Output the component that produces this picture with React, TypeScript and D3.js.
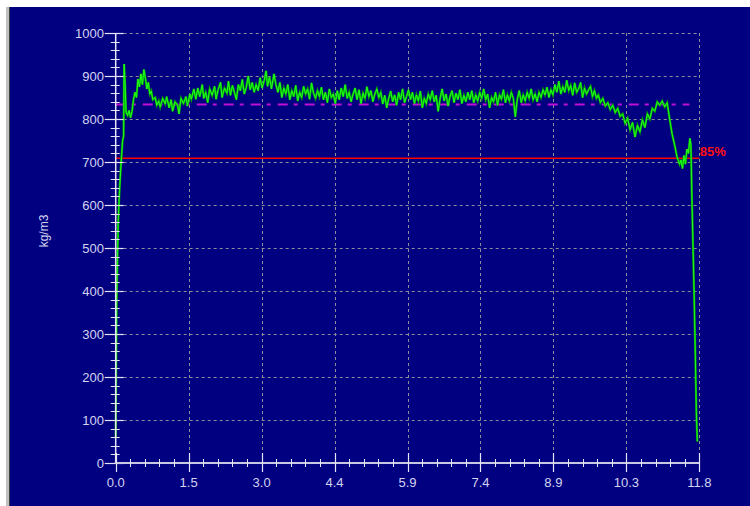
import React from "react";
import * as d3 from "d3";

// distance (x) vs density (kg/m3)
const densityPts: [number, number][] = [
  [0.0, 60], [0.02, 380], [0.05, 560], [0.08, 640], [0.11, 700], [0.14, 750],
  [0.16, 760], [0.17, 928], [0.19, 880], [0.21, 815], [0.24, 808], [0.27, 820],
  [0.3, 803], [0.33, 818], [0.36, 845], [0.39, 862], [0.42, 850], [0.45, 893],
  [0.48, 875], [0.51, 905], [0.54, 880], [0.57, 915], [0.6, 895], [0.63, 870],
  [0.66, 885], [0.69, 858], [0.72, 865], [0.75, 845],
  [0.8, 850], [0.83, 832], [0.87, 842], [0.9, 828], [0.95, 848], [1.0, 835],
  [1.03, 852], [1.08, 826], [1.12, 845], [1.15, 818], [1.2, 840], [1.25, 832],
  [1.28, 812], [1.32, 848], [1.37, 836], [1.42, 852], [1.45, 830], [1.5, 858],
  [1.53, 846], [1.58, 870], [1.62, 846], [1.66, 872], [1.7, 852], [1.75, 880],
  [1.78, 848], [1.82, 862], [1.86, 838], [1.9, 870], [1.95, 855], [2.0, 876],
  [2.03, 846], [2.07, 868], [2.12, 885], [2.15, 850], [2.2, 872], [2.25, 860],
  [2.28, 888], [2.32, 855], [2.36, 878], [2.4, 862], [2.44, 845], [2.48, 880],
  [2.52, 866], [2.56, 892], [2.6, 858], [2.64, 874], [2.68, 900], [2.72, 868],
  [2.76, 885], [2.8, 862], [2.84, 880], [2.88, 866], [2.92, 896], [2.96, 872],
  [3.0, 888], [3.04, 912], [3.07, 876], [3.11, 898], [3.15, 870], [3.2, 905],
  [3.24, 880], [3.28, 862], [3.32, 885], [3.36, 850], [3.4, 872], [3.44, 858],
  [3.48, 880], [3.52, 845], [3.56, 866], [3.6, 852], [3.64, 878], [3.68, 842],
  [3.72, 862], [3.76, 850], [3.8, 876], [3.84, 858], [3.88, 870], [3.92, 846],
  [3.96, 884], [4.0, 860], [4.04, 848], [4.08, 866], [4.12, 852], [4.16, 874],
  [4.2, 845], [4.24, 862], [4.28, 838], [4.32, 870], [4.36, 850], [4.4, 858],
  [4.44, 836], [4.48, 866], [4.52, 845], [4.56, 872], [4.6, 852], [4.64, 880],
  [4.68, 848], [4.72, 862], [4.76, 840], [4.8, 858], [4.84, 872], [4.88, 845],
  [4.92, 868], [4.96, 836], [5.0, 860], [5.04, 848], [5.08, 875], [5.12, 852],
  [5.16, 866], [5.2, 840], [5.24, 858], [5.28, 870], [5.32, 850], [5.36, 862],
  [5.4, 835], [5.44, 855], [5.48, 826], [5.52, 848], [5.56, 865], [5.6, 840],
  [5.64, 856], [5.68, 832], [5.72, 862], [5.76, 845], [5.8, 870], [5.84, 838],
  [5.88, 852], [5.92, 868], [5.96, 845], [6.0, 862], [6.04, 836], [6.08, 856],
  [6.12, 842], [6.16, 865], [6.2, 826], [6.24, 848], [6.28, 836], [6.32, 858],
  [6.36, 845], [6.4, 866], [6.44, 840], [6.48, 855], [6.52, 818], [6.56, 848],
  [6.6, 870], [6.64, 842], [6.68, 858], [6.72, 830], [6.76, 852], [6.8, 866],
  [6.84, 838], [6.88, 860], [6.92, 845], [6.96, 868], [7.0, 836], [7.04, 855],
  [7.08, 840], [7.12, 862], [7.16, 845], [7.2, 866], [7.24, 838], [7.28, 856],
  [7.32, 842], [7.36, 862], [7.4, 848], [7.44, 870], [7.48, 845], [7.52, 858],
  [7.56, 826], [7.6, 850], [7.64, 840], [7.68, 862], [7.72, 832], [7.76, 856],
  [7.8, 846], [7.84, 868], [7.88, 838], [7.92, 856], [7.96, 842], [8.0, 862],
  [8.04, 848], [8.08, 805], [8.12, 846], [8.16, 866], [8.2, 838], [8.24, 856],
  [8.28, 842], [8.32, 862], [8.36, 848], [8.4, 870], [8.44, 845], [8.48, 858],
  [8.52, 840], [8.56, 862], [8.6, 850], [8.64, 868], [8.68, 856], [8.72, 874],
  [8.76, 850], [8.8, 868], [8.84, 856], [8.88, 880], [8.92, 862], [8.96, 888],
  [9.0, 858], [9.04, 875], [9.08, 862], [9.12, 890], [9.16, 866], [9.2, 878],
  [9.24, 855], [9.28, 884], [9.32, 862], [9.36, 870], [9.4, 885], [9.44, 850],
  [9.48, 872], [9.52, 858], [9.56, 868], [9.6, 876], [9.64, 852], [9.68, 866],
  [9.72, 848], [9.76, 856], [9.8, 838], [9.85, 848], [9.9, 830], [9.95, 838],
  [10.0, 822], [10.05, 832], [10.1, 815], [10.15, 825], [10.2, 806], [10.25, 812],
  [10.3, 790], [10.35, 802], [10.4, 775], [10.45, 792], [10.5, 758], [10.55, 785],
  [10.6, 770], [10.65, 798], [10.7, 780], [10.75, 812], [10.8, 800], [10.85, 825],
  [10.9, 818], [10.95, 840], [11.0, 832], [11.05, 842], [11.1, 828], [11.15, 838],
  [11.2, 800], [11.25, 765], [11.3, 740], [11.35, 712], [11.4, 695], [11.43, 705],
  [11.46, 685], [11.49, 715], [11.52, 695], [11.55, 730], [11.58, 720], [11.61, 755],
  [11.63, 740], [11.65, 620], [11.69, 420], [11.72, 250], [11.74, 120], [11.76, 50],
];

const meanDensity = 834;
const thresholdDensity = 709;
const thresholdLabel = "85%";
const yLabel = "kg/m3";

const xTickLabels = ["0.0", "1.5", "3.0", "4.4", "5.9", "7.4", "8.9", "10.3", "11.8"];
const yTickValues = [0, 100, 200, 300, 400, 500, 600, 700, 800, 900, 1000];

const W = 750;
const H = 506;
const font = "'Liberation Sans', Arial, sans-serif";
const txtColor = "#d4d4f0";

export default function App() {
  const x = d3.scaleLinear().domain([0, 11.8]).range([115.7, 699.3]);
  const y = d3.scaleLinear().domain([0, 1000]).range([463, 33]);

  const xMajor = xTickLabels.map((_, i) => (i * 11.8) / (xTickLabels.length - 1));
  const xMinor = d3.range(0, 41).map((i) => (i * 11.8) / 40).filter((_, i) => i % 5 !== 0);
  const yMinor = d3.range(0, 1001, 20).filter((v) => v % 100 !== 0);

  const line = d3
    .line<[number, number]>()
    .x((d) => x(d[0]))
    .y((d) => y(d[1]));

  const [x0, x1] = x.range();
  const [yb, yt] = y.range();
  const trace = line(densityPts) || "";

  return (
    <div style={{ position: "fixed", left: 0, top: 0 }}>
      <svg width={W} height={H} style={{ display: "block" }}>
        <rect width={W} height={H} fill="#ffffff" />
        <rect x={6} y={7} width={3} height={H - 7} fill="#c0c0c0" />
        <rect x={9} y={7} width={1} height={H - 7} fill="#404040" />
        <rect x={10} y={7} width={W - 10} height={H - 7} fill="#000080" />

        {/* grid */}
        <g stroke="#8c8c9c" strokeWidth={1} strokeDasharray="3,3">
          {yTickValues.slice(1).map((v) => (
            <line key={"gy" + v} x1={x0 + 8} x2={x1} y1={Math.round(y(v)) + 0.5} y2={Math.round(y(v)) + 0.5} />
          ))}
          {xMajor.slice(1).map((v) => (
            <line key={"gx" + v} x1={Math.round(x(v)) + 0.5} x2={Math.round(x(v)) + 0.5} y1={yt} y2={yb - 10} />
          ))}
        </g>

        {/* mean + threshold */}
        <line
          x1={x0}
          x2={x(11.6)}
          y1={y(meanDensity)}
          y2={y(meanDensity)}
          stroke="#c010d8"
          strokeWidth={2}
          strokeDasharray="10,6,4,7"
        />
        <line x1={x0} x2={x1} y1={y(thresholdDensity)} y2={y(thresholdDensity)} stroke="#ff0000" strokeWidth={1.5} />
        <text x={x1 + 0.5} y={y(thresholdDensity) - 2} fill="#ff1010" fontFamily={font} fontSize={13} fontWeight="bold">
          {thresholdLabel}
        </text>

        {/* density trace */}
        <path d={trace} fill="none" stroke="#00a000" strokeWidth={2.2} />
        <path d={trace} fill="none" stroke="#20ff20" strokeWidth={1} />

        {/* y axis */}
        <g stroke="#e4e4f4">
          <line x1={x0} x2={x0} y1={yt} y2={yb} strokeWidth={1.5} />
          {yMinor.map((v) => (
            <line key={"my" + v} x1={x0 - 5} x2={x0 + 4} y1={Math.round(y(v)) + 0.5} y2={Math.round(y(v)) + 0.5} strokeWidth={1} />
          ))}
          {yTickValues.map((v) => (
            <line key={"ty" + v} x1={x0 - 11} x2={x0 + 8} y1={Math.round(y(v)) + 0.5} y2={Math.round(y(v)) + 0.5} strokeWidth={1.2} />
          ))}
        </g>
        {yTickValues.map((v) => (
          <text key={"ly" + v} x={104} y={y(v) + 4.5} textAnchor="end" fill={txtColor} fontFamily={font} fontSize={13}>
            {v}
          </text>
        ))}

        {/* x axis */}
        <g stroke="#e4e4f4">
          <line x1={x0 - 1} x2={x1} y1={yb} y2={yb} strokeWidth={2} stroke="#c8c8e4" />
          {xMinor.map((v) => (
            <line key={"mx" + v} x1={Math.round(x(v)) + 0.5} x2={Math.round(x(v)) + 0.5} y1={yb - 4} y2={yb + 4} strokeWidth={1} />
          ))}
          {xMajor.map((v) => (
            <line key={"tx" + v} x1={Math.round(x(v)) + 0.5} x2={Math.round(x(v)) + 0.5} y1={yb - 10} y2={yb + 9} strokeWidth={1.2} />
          ))}
        </g>
        {xTickLabels.map((lab, i) => (
          <text key={"lx" + lab} x={x(xMajor[i])} y={487} textAnchor="middle" fill={txtColor} fontFamily={font} fontSize={13}>
            {lab}
          </text>
        ))}

        <text
          transform={`translate(48,231) rotate(-90)`}
          textAnchor="middle"
          fill={txtColor}
          fontFamily={font}
          fontSize={12}
        >
          {yLabel}
        </text>
      </svg>
    </div>
  );
}
